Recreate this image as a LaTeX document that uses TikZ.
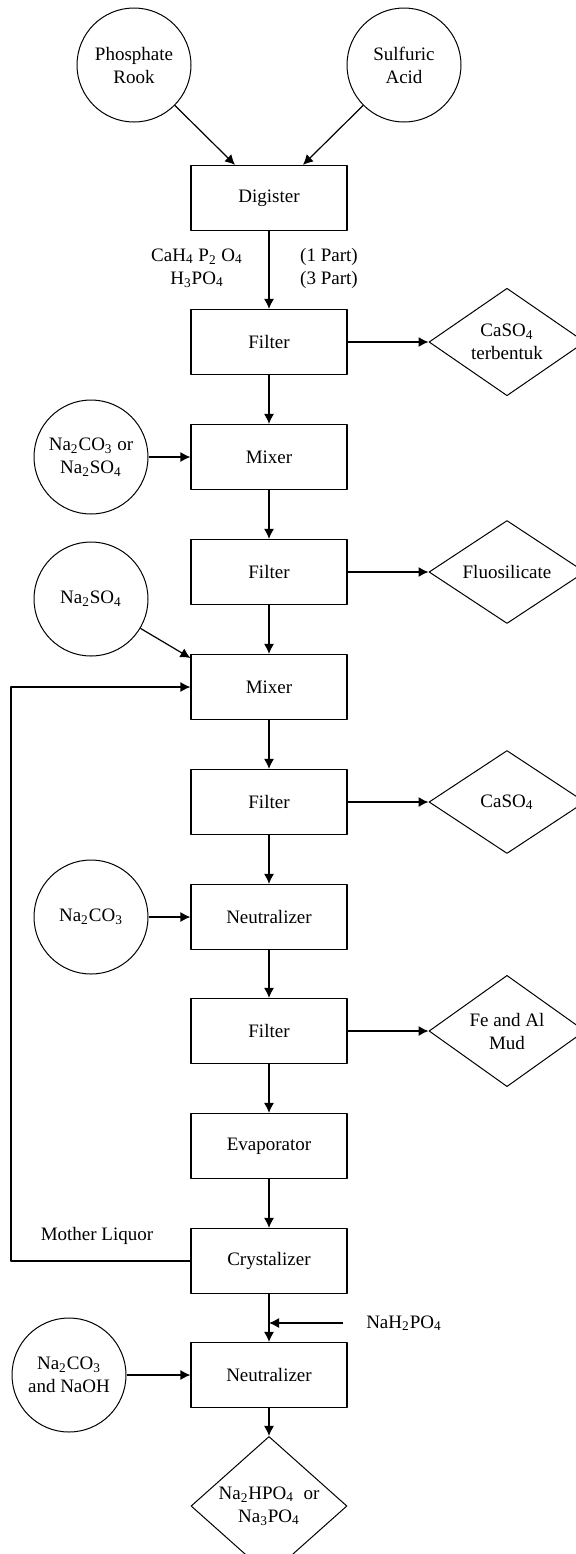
\documentclass[tikz,border=0pt]{standalone}
\usepackage{fontspec}
\setmainfont{Liberation Serif}
\usetikzlibrary{arrows.meta,calc,shapes.geometric}

\begin{document}
\begin{tikzpicture}[x=0.5pt,y=-0.5pt,line join=round,font=\fontsize{9.5}{11.5}\selectfont,
	unit/.style={draw,line width=0.6pt,minimum width=78pt,minimum height=32.5pt,inner sep=0pt},
	feed/.style={draw,circle,line width=0.5pt,minimum size=57pt,inner sep=0pt,align=center},
	waste/.style={draw,diamond,line width=0.5pt,minimum width=78pt,minimum height=51.5pt,inner sep=0pt,align=center},
	flow/.style={-{Latex[length=5pt,width=5pt]},line width=0.6pt}]
	\useasboundingbox (0,0) rectangle (576,1554);
	\def\cx{269}
	\def\wx{507}
	\def\fx{91}
	% process units
	\node[unit] (dig) at (\cx,198) {Digister};
	\node[unit] (fil1) at (\cx,342) {Filter};
	\node[unit] (mix1) at (\cx,457) {Mixer};
	\node[unit] (fil2) at (\cx,572) {Filter};
	\node[unit] (mix2) at (\cx,687) {Mixer};
	\node[unit] (fil3) at (\cx,802) {Filter};
	\node[unit] (neu1) at (\cx,917) {Neutralizer};
	\node[unit] (fil4) at (\cx,1031) {Filter};
	\node[unit] (evap) at (\cx,1146) {Evaporator};
	\node[unit] (cry) at (\cx,1261) {Crystalizer};
	\node[unit] (neu2) at (\cx,1375) {Neutralizer};
	\node[waste] (prod) at (\cx,1506) {Na\textsubscript{2}HPO\textsubscript{4}\ \ or\\Na\textsubscript{3}PO\textsubscript{4}};
	% feeds
	\node[feed] (rock) at (134,65) {Phosphate\\Rook};
	\node[feed] (acid) at (404,65) {Sulfuric\\Acid};
	\node[feed] (mf1) at (\fx,457) {Na\textsubscript{2}CO\textsubscript{3} or\\Na\textsubscript{2}SO\textsubscript{4}};
	\node[feed] (mf2) at (\fx,599) {Na\textsubscript{2}SO\textsubscript{4}};
	\node[feed] (mf3) at (\fx,917) {Na\textsubscript{2}CO\textsubscript{3}};
	\node[feed] (mf4) at (69,1375) {Na\textsubscript{2}CO\textsubscript{3}\\and NaOH};
	% solids out
	\node[waste] (w1) at (\wx,342) {CaSO\textsubscript{4}\\terbentuk};
	\node[waste] (w2) at (\wx,572) {Fluosilicate};
	\node[waste] (w3) at (\wx,802) {CaSO\textsubscript{4}};
	\node[waste] (w4) at (\wx,1031) {Fe and Al\\Mud};
	% labels
	\node[align=center] (lbl1) at (197,268) {CaH\textsubscript{4} P\textsubscript{2} O\textsubscript{4}\\H\textsubscript{3}PO\textsubscript{4}};
	\node[align=center] (lbl2) at (329,268) {(1 Part)\\(3 Part)};
	\node (ml) at (97,1236) {Mother Liquor};
	\node (nah) at (404,1323) {NaH\textsubscript{2}PO\textsubscript{4}};
	\coordinate (ret) at (11,1261);
	% streams
	\foreach \a/\b in {dig/fil1,fil1/mix1,mix1/fil2,fil2/mix2,mix2/fil3,fil3/neu1,neu1/fil4,fil4/evap,evap/cry,cry/neu2,neu2/prod}
		\draw[flow] (\a) -- (\b);
	\foreach \a/\b in {fil1/w1,fil2/w2,fil3/w3,fil4/w4,mf1/mix1,mf3/neu1,mf4/neu2}
		\draw[flow] (\a) -- (\b);
	\draw[flow] (rock) -- ([xshift=-17pt]dig.north);
	\draw[flow] (acid) -- ([xshift=17pt]dig.north);
	\draw[flow] (mf2) -- ([yshift=14.5pt]mix2.west);
	\draw[flow] (cry.west) -- (ret) |- (mix2.west);
	\draw[flow] ([xshift=-8pt]nah.west) -- (nah.west -| cry.south);
\end{tikzpicture}
\end{document}
